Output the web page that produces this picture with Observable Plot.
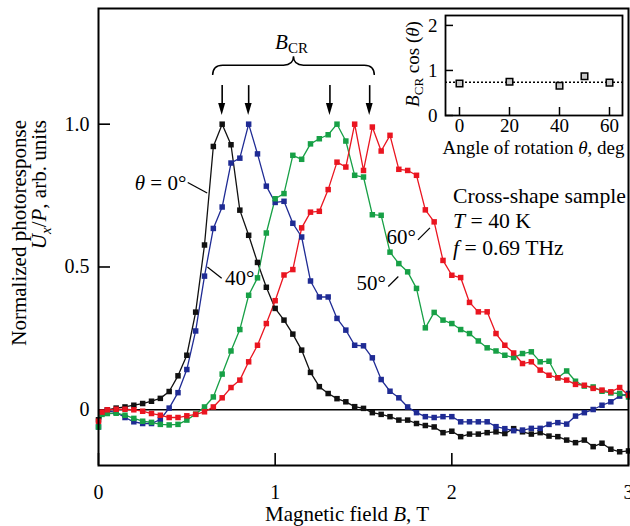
<!DOCTYPE html>
<html><head><meta charset="utf-8">
<script src="https://cdn.jsdelivr.net/npm/d3@7"></script>
<script src="https://cdn.jsdelivr.net/npm/@observablehq/plot@0.6"></script>
<style>
body{margin:0;background:#fff;}
#wrap{position:relative;width:630px;height:526px;overflow:hidden;}
#wrap svg{position:absolute;top:0;background:transparent;overflow:visible;}
</style></head><body><div id="wrap"></div>
<script>
// ---------- data ----------
const field = [0,0.02,0.05,0.10,0.15,0.20,0.25,0.30,0.35,0.40,0.45,0.50,0.55,0.60,0.65,0.70,0.75,0.80,0.85,0.90,0.95,1.00,1.05,1.10,1.15,1.20,1.25,1.30,1.35,1.40,1.45,1.50,1.55,1.60,1.65,1.70,1.75,1.80,1.85,1.90,1.95,2.00,2.05,2.10,2.15,2.20,2.25,2.30,2.35,2.40,2.45,2.50,2.55,2.60,2.65,2.70,2.75,2.80,2.85,2.90,2.95,3.00];
const resp0  = [-0.035,-0.007,0.000,0.006,0.010,0.016,0.022,0.030,0.040,0.064,0.119,0.191,0.342,0.577,0.922,1.000,0.928,0.699,0.611,0.516,0.429,0.355,0.314,0.265,0.209,0.131,0.081,0.057,0.039,0.028,0.011,0.005,-0.010,-0.016,-0.024,-0.036,-0.036,-0.048,-0.055,-0.060,-0.080,-0.075,-0.094,-0.085,-0.085,-0.080,-0.077,-0.083,-0.066,-0.077,-0.085,-0.080,-0.092,-0.094,-0.106,-0.115,-0.106,-0.129,-0.117,-0.138,-0.147,-0.144];
const resp40 = [-0.060,-0.012,-0.004,-0.009,-0.027,-0.042,-0.048,-0.048,-0.034,0.006,0.060,0.141,0.276,0.468,0.635,0.710,0.864,0.881,1.000,0.896,0.783,0.726,0.730,0.653,0.605,0.451,0.395,0.395,0.320,0.279,0.226,0.224,0.182,0.106,0.065,0.042,0.010,-0.010,-0.024,-0.027,-0.024,-0.024,-0.042,-0.042,-0.042,-0.042,-0.059,-0.066,-0.073,-0.071,-0.065,-0.065,-0.051,-0.045,-0.050,-0.022,-0.010,0.001,0.016,0.028,0.048,0.057];
const resp50 = [-0.060,-0.016,-0.013,-0.012,-0.019,-0.030,-0.040,-0.044,-0.051,-0.053,-0.051,-0.036,-0.015,0.010,0.045,0.125,0.206,0.281,0.401,0.462,0.619,0.739,0.757,0.891,0.877,0.931,0.949,0.963,1.000,0.941,0.821,0.815,0.683,0.681,0.552,0.512,0.483,0.425,0.287,0.341,0.314,0.302,0.281,0.267,0.241,0.217,0.206,0.191,0.183,0.197,0.203,0.168,0.170,0.112,0.136,0.100,0.083,0.080,0.065,0.059,0.057,0.045];
const resp60 = [-0.040,-0.008,0.000,0.002,0.002,0.000,-0.005,-0.013,-0.019,-0.027,-0.027,-0.021,-0.016,-0.007,0.010,0.042,0.078,0.104,0.168,0.226,0.302,0.382,0.472,0.491,0.637,0.692,0.695,0.771,0.867,0.850,1.000,0.838,0.990,0.906,0.961,0.842,0.838,0.821,0.700,0.658,0.523,0.471,0.463,0.376,0.343,0.343,0.267,0.226,0.199,0.162,0.168,0.139,0.121,0.112,0.104,0.089,0.086,0.075,0.069,0.063,0.078,0.051];
const seriesNames = ["0°","40°","50°","60°"];
const seriesColors = ["#111111","#1f2b94","#17a046","#ea1520"];
const seriesValues = [resp0, resp40, resp50, resp60];

const xTicks = [0,1,2,3];
const xTickLabels = ["0","1","2","3"];
const yTicks = [0,0.5,1.0];
const yTickLabels = ["0","0.5","1.0"];

// B_CR arrows (field values of the resonances)
const bcrValues = [0.70, 0.85, 1.31, 1.535];

// inset data
const insetAngles = [0,20,40,50,60];
const insetBcrCos = [0.71,0.75,0.66,0.87,0.73];
const insetMean = [0.74];
const insetXTicks = [0,20,40,60];
const insetYTicks = [0,1,2];

const FONT = "'Liberation Serif','Times New Roman',serif";

const rows = seriesNames.flatMap((s,i) => field.map((b,j) => ({s, b, v: seriesValues[i][j]})));

const W = 630, H = 526, mL = 98, mR = 2, mT = 8, mB = 61;
const pw = W - mL - mR, ph = H - mT - mB;

const plot = Plot.plot({
  width: W, height: H, marginLeft: mL, marginRight: mR, marginTop: mT, marginBottom: mB,
  x: {domain: [0, 3], label: null},
  y: {domain: [-0.195, 1.405], label: null},
  color: {domain: seriesNames, range: seriesColors},
  style: {fontFamily: FONT, fontSize: "20px", color: "#000", background: "transparent"},
  marks: [
    Plot.ruleY([0], {stroke: "#000", strokeWidth: 1.4}),
    Plot.tickX(xTicks, {x: d => d, insetTop: ph - 12, strokeWidth: 1.6}),
    Plot.tickY(yTicks, {y: d => d, insetRight: pw - 12, strokeWidth: 1.6}),
    Plot.line(rows, {x: "b", y: "v", z: "s", stroke: "s", strokeWidth: 1.3}),
    Plot.dot(rows, {x: "b", y: "v", symbol: "square", r: 3.1, fill: "s", stroke: null}),
    Plot.ruleX(bcrValues, {x: d => d, y1: 1.135, y2: 1.055, strokeWidth: 1.6}),
    Plot.axisX({ticks: xTicks, tickFormat: d => xTickLabels[xTicks.indexOf(d)], tickSize: 0, tickPadding: 19, fontSize: 20, label: null}),
    Plot.axisY({ticks: yTicks, tickFormat: d => yTickLabels[yTicks.indexOf(d)], tickSize: 0, tickPadding: 9, fontSize: 20, label: null}),
    Plot.frame({stroke: "#000", strokeWidth: 2})
  ]
});

const sx = plot.scale("x"), sy = plot.scale("y");
const X = v => sx.apply ? sx.apply(v) : d3.scaleLinear(sx.domain, sx.range)(v);
const Y = v => sy.apply ? sy.apply(v) : d3.scaleLinear(sy.domain, sy.range)(v);

function rich(parent, parts, attrs) {
  const t = parent.append("text").attr("text-anchor", "start");
  for (const [k, v] of Object.entries(attrs)) t.attr(k, v);
  let shift = 0;
  for (const p of parts) {
    const s = t.append("tspan").text(p.t);
    if (p.i) s.attr("font-style", "italic");
    const want = p.sub || 0;
    if (want !== shift) { s.attr("dy", want - shift); shift = want; }
    if (p.fs) s.attr("font-size", p.fs);
  }
  return t;
}

const svg = d3.select(plot);
const g = svg.append("g").attr("font-family", FONT).attr("fill", "#000").attr("font-size", 21);

// arrowheads
for (const b of bcrValues) {
  const x = X(b), yt = Y(1.03);
  g.append("path").attr("d", `M${x-3.5},${yt-12}L${x},${yt}L${x+3.5},${yt-12}Z`).attr("fill", "#000");
}
// brace
{
  const x0 = X(0.649), x1 = X(1.564), xm = (x0 + x1) / 2;
  const yE = Y(1.170), yH = Y(1.205), yT = Y(1.236), r = 10;
  g.append("path").attr("fill", "none").attr("stroke", "#000").attr("stroke-width", 1.5)
    .attr("d", `M${x0},${yE}Q${x0},${yH} ${x0+r},${yH}L${xm-r},${yH}Q${xm},${yH} ${xm},${yT}Q${xm},${yH} ${xm+r},${yH}L${x1-r},${yH}Q${x1},${yH} ${x1},${yE}`);
  rich(g, [{t: "B", i: 1}, {t: "CR", sub: 4, fs: 15}], {x: xm - 2, y: Y(1.262), "text-anchor": "middle"});
}
// curve labels and leader lines
const leaders = [[0.508,0.794,0.618,0.757],[0.619,0.498,0.700,0.459],[1.811,0.593,1.879,0.635],[1.643,0.430,1.700,0.465]];
for (const [a,b,c,d] of leaders) g.append("line").attr("x1", X(a)).attr("y1", Y(b)).attr("x2", X(c)).attr("y2", Y(d)).attr("stroke", "#000").attr("stroke-width", 1.2);
rich(g, [{t: "θ", i: 1}, {t: " = 0°"}], {x: X(0.50), y: Y(0.793), dy: "0.33em", "text-anchor": "end"});
rich(g, [{t: "40°"}], {x: X(0.719), y: Y(0.460), dy: "0.33em"});
rich(g, [{t: "60°"}], {x: X(1.80), y: Y(0.603), dy: "0.33em", "text-anchor": "end"});
rich(g, [{t: "50°"}], {x: X(1.63), y: Y(0.443), dy: "0.33em", "text-anchor": "end"});
// sample description
rich(g, [{t: "Cross-shape sample"}], {x: X(2.01), y: Y(0.722), "font-size": 21.7});
rich(g, [{t: "T", i: 1}, {t: " = 40 K"}], {x: X(2.01), y: Y(0.635), "font-size": 21.7});
rich(g, [{t: "f", i: 1}, {t: " = 0.69 THz"}], {x: X(2.01), y: Y(0.541), "font-size": 21.7});
// axis titles
rich(g, [{t: "Magnetic field "}, {t: "B", i: 1}, {t: ", T"}], {x: 347, y: 521, "text-anchor": "middle"});
rich(g, [{t: "Normalized photoresponse"}], {transform: "translate(26,120) rotate(-90)", "text-anchor": "end"});
rich(g, [{t: "U", i: 1}, {t: "x", i: 1, sub: 5, fs: 15}, {t: "/"}, {t: "P", i: 1}, {t: ", arb. units"}], {transform: "translate(46,120) rotate(-90)", "text-anchor": "end"});

document.getElementById("wrap").appendChild(plot);
plot.style.left = "0px";

// ---------- inset ----------
const iW = 230, iH = 165, iL = 45, iR = 8, iT = 15, iB = 50;
const inset = Plot.plot({
  width: iW, height: iH, marginLeft: iL, marginRight: iR, marginTop: iT, marginBottom: iB,
  x: {domain: [-5.6, 65.2], label: null},
  y: {domain: [0, 2.22], label: null},
  style: {fontFamily: FONT, fontSize: "19px", color: "#000", background: "transparent"},
  marks: [
    Plot.ruleY(insetMean, {y: d => d, strokeDasharray: "2,2", strokeWidth: 1.5}),
    Plot.tickX(insetXTicks, {x: d => d, insetTop: (iH - iT - iB) - 8, strokeWidth: 1.5}),
    Plot.tickY(insetYTicks, {y: d => d, insetRight: (iW - iL - iR) - 8, strokeWidth: 1.5}),
    Plot.axisX({ticks: insetXTicks, tickFormat: d => String(d), tickSize: 0, tickPadding: 3, fontSize: 19, label: null}),
    Plot.axisY({ticks: insetYTicks, tickFormat: d => String(d), tickSize: 0, tickPadding: 8, fontSize: 19, label: null}),
    Plot.dot(insetAngles.map((a,i) => ({a, v: insetBcrCos[i]})), {x: "a", y: "v", symbol: "square", r: 3.7, fill: "#c8c8c8", stroke: "#000", strokeWidth: 1.5}),
    Plot.frame({stroke: "#000", strokeWidth: 1.8})
  ]
});
const ig = d3.select(inset).append("g").attr("font-family", FONT).attr("fill", "#000").attr("font-size", 19);
rich(ig, [{t: "Angle of rotation "}, {t: "θ", i: 1}, {t: ", deg"}], {x: 133.5, y: 154, "text-anchor": "middle"});
rich(ig, [{t: "B", i: 1}, {t: "CR", sub: 4, fs: 13}, {t: " cos ("}, {t: "θ", i: 1}, {t: ")"}], {transform: "translate(19,64) rotate(-90)", "text-anchor": "middle"});
document.getElementById("wrap").appendChild(inset);
inset.style.left = "400px";
</script></body></html>
